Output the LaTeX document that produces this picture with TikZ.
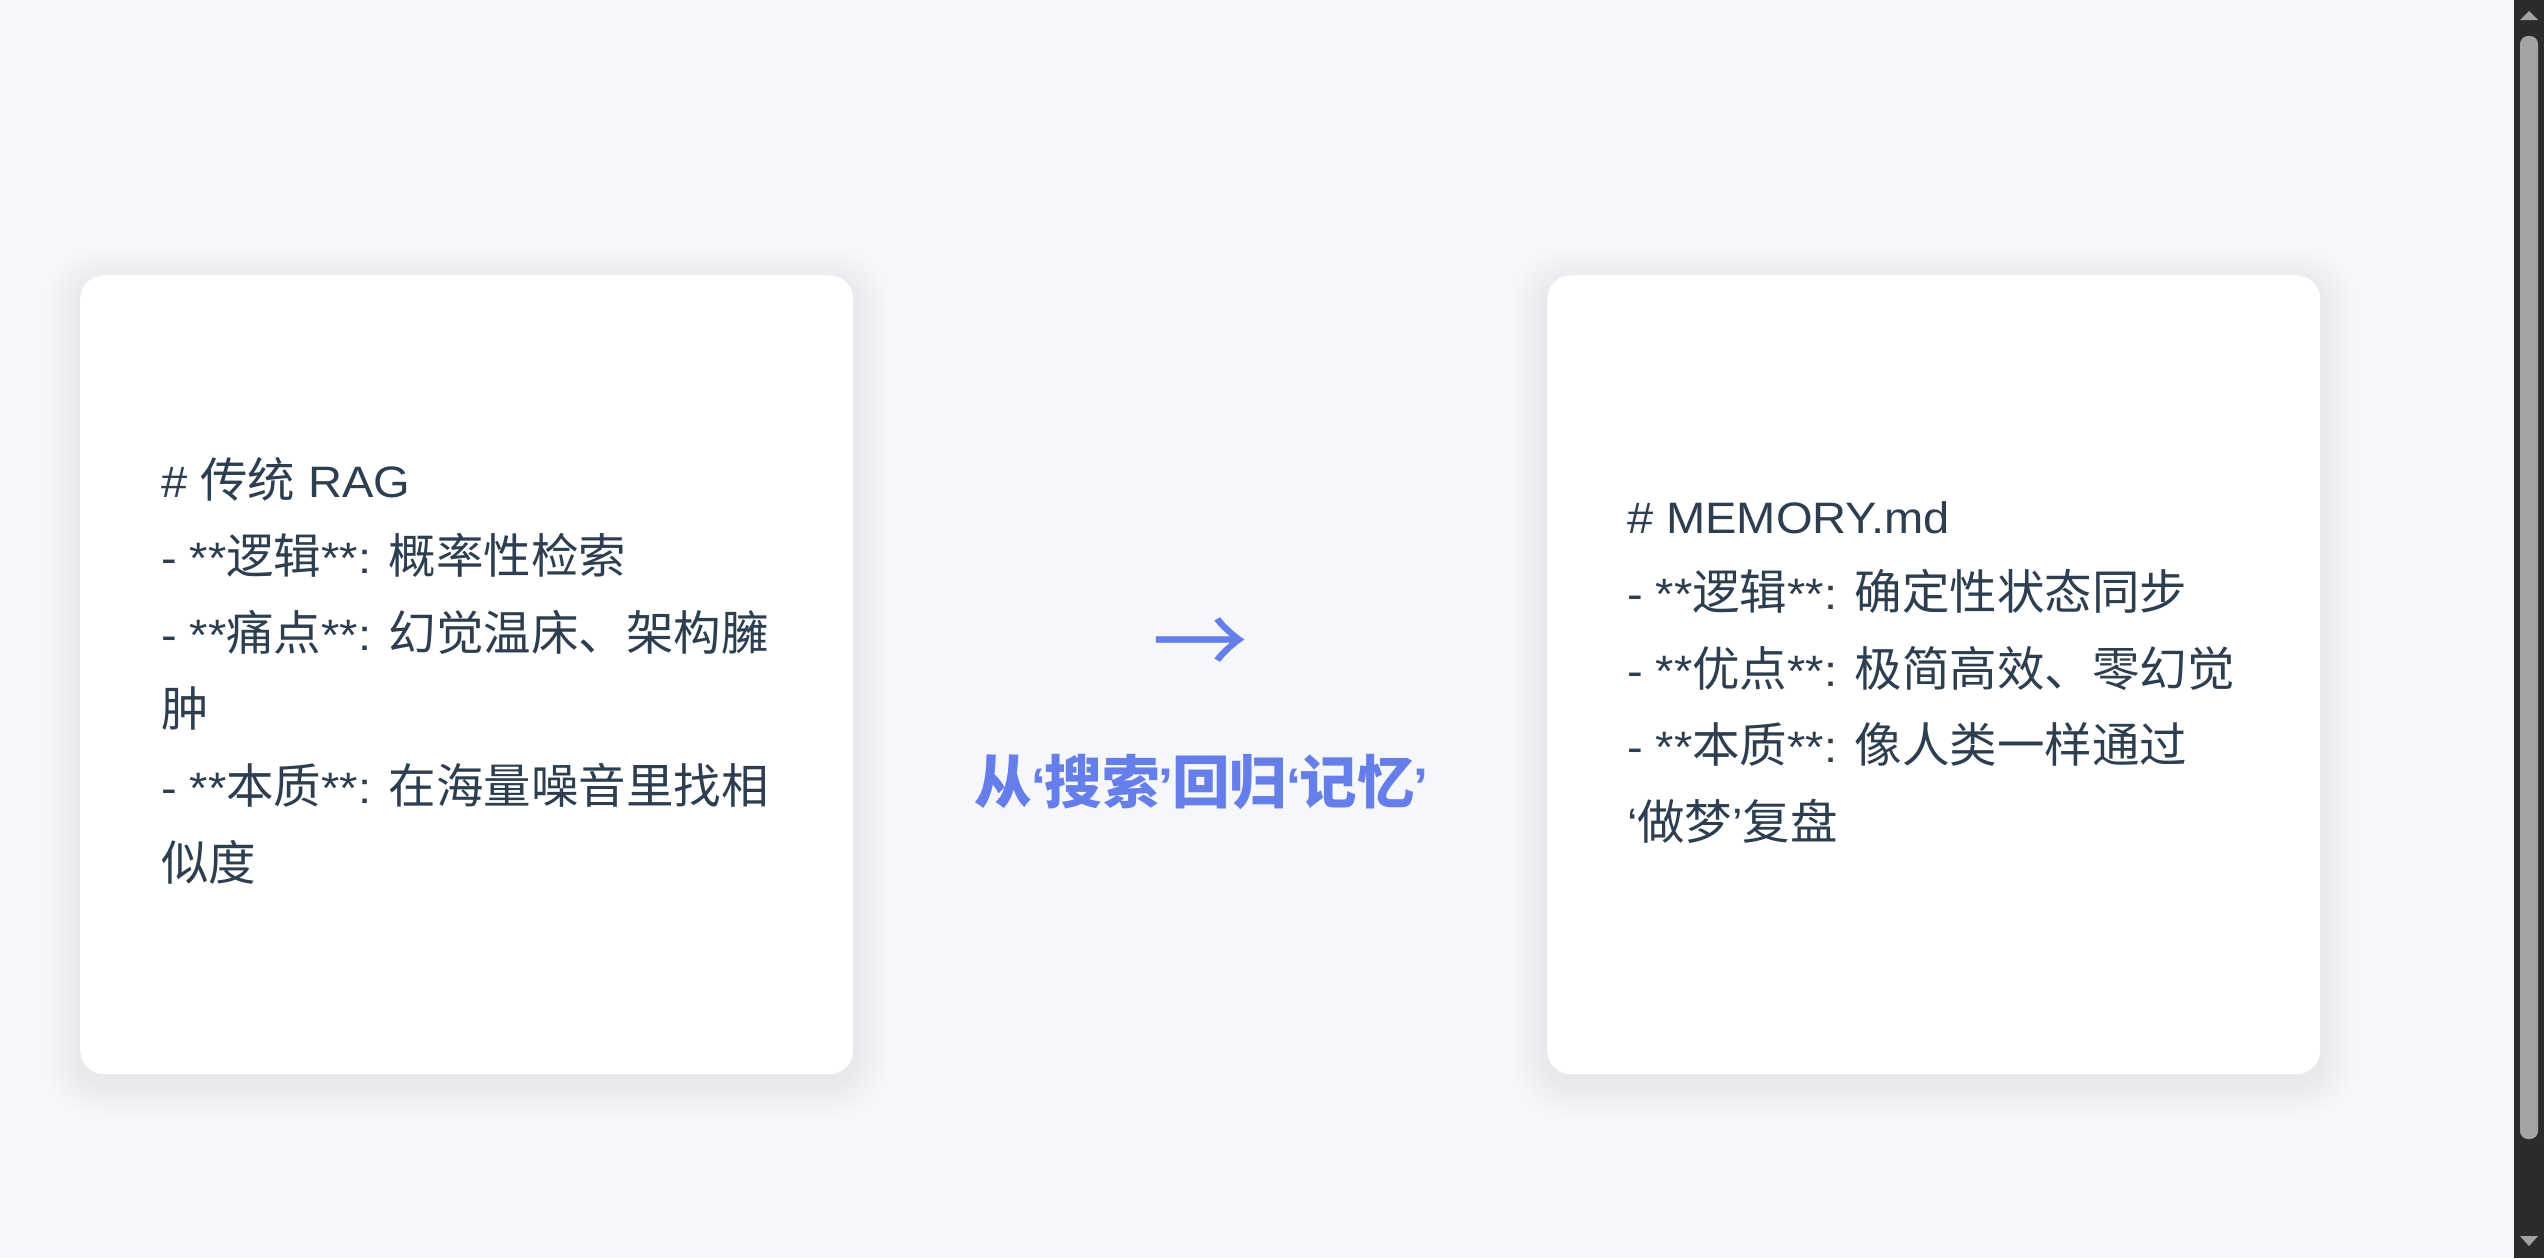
\documentclass[tikz,border=0pt]{standalone}
\usepackage{fontspec}
\setmainfont{Liberation Sans}[FakeStretch=1.07]
\newfontfamily\cjkfont{Noto Sans CJK SC}
\definecolor{bg}{HTML}{F5F7FA}
\definecolor{ink}{HTML}{2C3E50}
\definecolor{accent}{HTML}{667EEA}
\definecolor{sbtrack}{HTML}{2B2B2B}
\definecolor{sbthumb}{HTML}{A3A3A3}
\newcommand\zh[1]{{\cjkfont\fontsize{47.5bp}{76.6bp}\selectfont #1}}
\newcommand\zhb[1]{{\cjkfont\bfseries\fontsize{57.6bp}{70bp}\selectfont #1}}
\newcommand\hq[1]{\kern-1.3bp#1\kern-1.3bp}
\begin{document}
\begin{tikzpicture}[x=1bp,y=-1bp]
\tikzset{
  txt/.style={anchor=base west, inner sep=0pt, outer sep=0pt, text=ink, font=\fontsize{44bp}{76.6bp}\selectfont},
  card/.style={fill=white, rounded corners=24bp, minimum width=773bp, minimum height=799bp, inner sep=0pt, draw=none, anchor=north west},
  shade/.style={fill=black, opacity=0.005},
  accenttxt/.style={anchor=base, inner sep=0pt, outer sep=0pt, text=accent},
}
\useasboundingbox (0,0) rectangle (2544,1258);
\fill[bg] (0,0) rectangle (2544,1258);
% shadows
\foreach \cx in {80,1547}{
  \foreach \i in {1,...,14}{
    \pgfmathsetmacro\rr{24+2.5*\i}
    \fill[shade, rounded corners=\rr bp] (\cx-2.5*\i, 275-2.5*\i+8) rectangle (\cx+773+2.5*\i, 1074+2.5*\i+8);
  }
}
% cards
\node[card] (cardL) at (80,275) {};
\node[card] (cardR) at (1547,275) {};
% left text
\node[txt] (l1) at (161,497.0) {\# \zh{传统} RAG};
\node[txt] (l2) at (161,573.6) {- **\zh{逻辑}**: \zh{概率性检索}};
\node[txt] (l3) at (161,650.2) {- **\zh{痛点}**: \zh{幻觉温床、架构臃}};
\node[txt] (l4) at (161,726.8) {\zh{肿}};
\node[txt] (l5) at (161,803.4) {- **\zh{本质}**: \zh{在海量噪音里找相}};
\node[txt] (l6) at (161,880.0) {\zh{似度}};
% right text
\node[txt] (r1) at (1627,533.0) {\# MEMORY.md};
\node[txt] (r2) at (1627,609.6) {- **\zh{逻辑}**: \zh{确定性状态同步}};
\node[txt] (r3) at (1627,686.2) {- **\zh{优点}**: \zh{极简高效、零幻觉}};
\node[txt] (r4) at (1627,762.8) {- **\zh{本质}**: \zh{像人类一样通过}};
\node[txt] (r5) at (1627,839.4) {‘\zh{做梦}’\zh{复盘}};
% middle
\node[accenttxt, font=\cjkfont\fontsize{96bp}{96bp}\selectfont] (arr) at (1200,676) {→};
\node[accenttxt, font=\bfseries\fontsize{50bp}{70bp}\selectfont] (head) at (1201,803) {\zhb{从}\hq{‘}\zhb{搜索}\hq{’}\zhb{回归}\hq{‘}\zhb{记忆}\hq{’}};
% scrollbar
\fill[sbtrack] (2514,0) rectangle (2544,1258);
\fill[sbthumb, rounded corners=8bp] (2520,36) rectangle (2538,1139);
\fill[sbthumb] (2520,20) -- (2529,11) -- (2538,20) -- cycle;
\fill[sbthumb] (2520,1236) -- (2529,1246) -- (2538,1236) -- cycle;
\end{tikzpicture}
\end{document}
